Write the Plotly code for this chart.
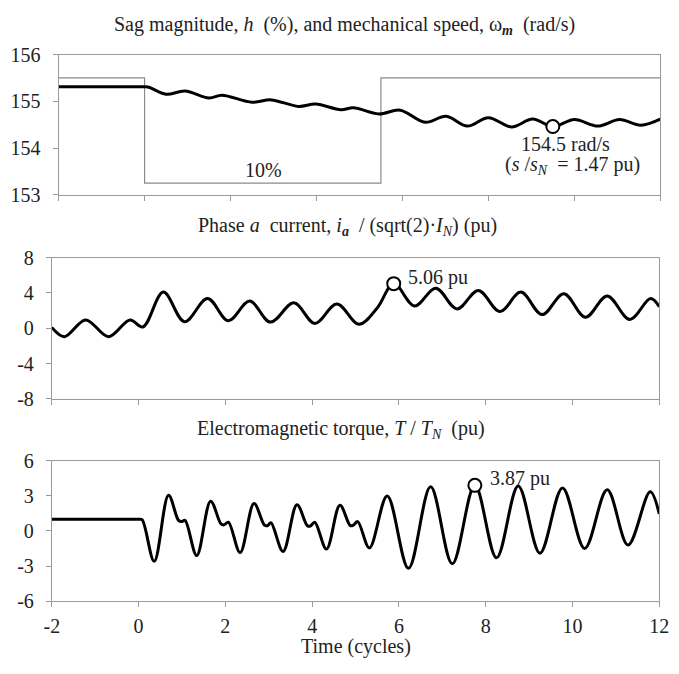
import plotly.graph_objects as go

# ---------------- data ----------------
x_ticks = [-2, 0, 2, 4, 6, 8, 10, 12]
x_tick_text = ["-2", "0", "2", "4", "6", "8", "10", "12"]

# Sag magnitude (drawn in the speed axis units, as in the original)
sag_t = [-2, 0, 0, 5.5, 5.5, 12]
sag_level = [155.5, 155.5, 153.25, 153.25, 155.5, 155.5]

# Mechanical speed (rad/s)
speed_t = [-2, -1, 0.0, 0.1, 0.5, 0.94, 1.5, 1.8, 2.5, 2.95, 3.58, 3.98, 4.57, 4.86,
           5.45, 5.95, 6.53, 7.02, 7.51, 8.0, 8.54, 9.03, 9.5, 10.0, 10.55, 11.05, 11.55, 12.0]
speed_w = [155.31, 155.31, 155.31, 155.30, 155.15, 155.22, 155.07, 155.13, 154.98, 155.03,
           154.89, 154.94, 154.82, 154.86, 154.73, 154.81, 154.55, 154.68, 154.47, 154.65,
           154.45, 154.62, 154.46, 154.61, 154.47, 154.61, 154.49, 154.62]

# Phase a current (pu)
cur_t = [-2, -1.71, -1.22, -0.69, -0.2, 0.1, 0.57, 1.06, 1.59, 2.07, 2.56, 3.04, 3.58,
         4.06, 4.57, 5.08, 5.5, 5.88, 6.36, 6.85, 7.34, 7.83, 8.33, 8.81, 9.3, 9.8,
         10.3, 10.8, 11.32, 11.8, 12.0]
cur_v = [0.1, -0.95, 0.95, -0.95, 0.95, 0.15, 4.1, 0.75, 3.37, 0.85, 3.08, 0.7, 2.89,
         0.55, 2.75, 0.45, 2.3, 5.06, 2.53, 4.54, 2.2, 4.29, 1.9, 4.1, 1.55, 3.92,
         1.25, 3.66, 1.0, 3.37, 2.45]

# Electromagnetic torque (pu)
tq_t = [-2, -1, 0.0, 0.08, 0.36, 0.69, 0.92, 0.99, 1.07, 1.34, 1.66, 1.9, 1.97, 2.07,
        2.34, 2.66, 2.9, 2.97, 3.05, 3.33, 3.65, 3.89, 3.96, 4.06, 4.33, 4.64, 4.88,
        4.95, 5.05, 5.32, 5.73, 6.22, 6.73, 7.23, 7.75, 8.25, 8.75, 9.25, 9.77, 10.28,
        10.8, 11.28, 11.79, 12.0]
tq_v = [1.0, 1.0, 1.0, 0.97, -2.6, 3.05, 0.9, 0.8, 0.9, -2.1, 2.55, 0.6, 0.52, 0.75,
        -1.85, 2.35, 0.5, 0.45, 0.7, -1.75, 2.25, 0.45, 0.42, 0.75, -1.55, 2.2, 0.45,
        0.5, 0.8, -1.45, 3.0, -3.2, 3.78, -2.8, 3.9, -2.3, 3.85, -1.9, 3.68, -1.5,
        3.52, -1.2, 3.35, 1.45]

# Highlighted points
mark_speed = ([9.5], [154.46])
mark_cur = ([5.88], [5.06])
mark_tq = ([7.75], [3.9])

# ---------------- figure ----------------
W, H = 679, 674
def px(x):
    return x / W
def py(y):
    return 1 - y / H

FONT = "Liberation Serif"
AX = "#9a9a9a"
TXT = "#222"
line_style = dict(color="black", width=3, shape="spline", smoothing=1.0)

fig = go.Figure()
fig.add_trace(go.Scatter(x=sag_t, y=sag_level, mode="lines",
                         line=dict(color="#8a8a8a", width=1.2), xaxis="x", yaxis="y"))
fig.add_trace(go.Scatter(x=speed_t, y=speed_w, mode="lines", line=line_style,
                         xaxis="x", yaxis="y"))
fig.add_trace(go.Scatter(x=cur_t, y=cur_v, mode="lines", line=line_style,
                         xaxis="x2", yaxis="y2"))
fig.add_trace(go.Scatter(x=tq_t, y=tq_v, mode="lines", line=line_style,
                         xaxis="x3", yaxis="y3"))
for (mx, my), xa, ya in [(mark_speed, "x", "y"), (mark_cur, "x2", "y2"), (mark_tq, "x3", "y3")]:
    fig.add_trace(go.Scatter(x=mx, y=my, mode="markers",
                             marker=dict(symbol="circle", size=13, color="white",
                                         line=dict(color="black", width=2)),
                             xaxis=xa, yaxis=ya))

def xaxis(domain, anchor, labels):
    return dict(domain=domain, anchor=anchor, range=[-2, 12], tickvals=x_ticks,
                ticktext=x_tick_text,
                showticklabels=labels, ticks="outside", ticklen=5, tickcolor=AX,
                ticklabelstandoff=2,
                showline=True, linecolor=AX, linewidth=1, mirror=True,
                showgrid=False, zeroline=False,
                tickfont=dict(family=FONT, size=20, color=TXT))

def yaxis(domain, anchor, rng, vals, texts):
    return dict(domain=domain, anchor=anchor, range=rng, tickvals=vals, ticktext=texts,
                ticks="outside", ticklen=5, tickcolor=AX, ticklabelstandoff=8,
                showline=True, linecolor=AX, linewidth=1, mirror=True,
                showgrid=False, zeroline=False,
                tickfont=dict(family=FONT, size=20, color=TXT))

fig.update_layout(
    width=W, height=H, margin=dict(l=0, r=0, t=0, b=0),
    paper_bgcolor="white", plot_bgcolor="white", showlegend=False,
    font=dict(family=FONT, size=20, color=TXT),
    xaxis=xaxis([px(52), px(670)], "y", False),
    yaxis=yaxis([py(190), py(45)], "x", [153, 156], [153, 154, 155, 156],
                ["153", "154", "155", "156"]),
    xaxis2=xaxis([px(45), px(669)], "y2", False),
    yaxis2=yaxis([py(401), py(255)], "x2", [-8, 8], [-8, -4, 0, 4, 8],
                 ["-8", "-4", "0", "4", "8"]),
    xaxis3=xaxis([px(45), px(669)], "y3", True),
    yaxis3=yaxis([py(610), py(465)], "x3", [-6, 6], [-6, -3, 0, 3, 6],
                 ["-6", "-3", "0", "3", "6"]),
)

ann = []
def paper_text(text, x, y, size=20):
    ann.append(dict(text=text, x=px(x), y=py(y), xref="paper", yref="paper",
                    xanchor="center", yanchor="middle", showarrow=False,
                    font=dict(family=FONT, size=size, color=TXT)))

paper_text("Sag magnitude, <i>h</i>  (%), and mechanical speed, ω<sub><b><i>m</i></b></sub>  (rad/s)", 346, 15)
paper_text("Phase <i>a</i>  current, <i>i</i><sub><b><i>a</i></b></sub>  / (sqrt(2)·<i>I</i><sub><i>N</i></sub>) (pu)", 349, 223)
paper_text("Electromagnetic torque, <i>T</i> / <i>T</i><sub><i>N</i></sub>  (pu)", 342, 433)
paper_text("Time (cycles)", 357, 657)

def data_text(text, x, y, xa, ya, anchor="center"):
    ann.append(dict(text=text, x=x, y=y, xref=xa, yref=ya, xanchor=anchor,
                    yanchor="middle", showarrow=False,
                    font=dict(family=FONT, size=20, color=TXT)))

data_text("10%", 2.76, 153.52, "x", "y")
data_text("154.5 rad/s", 9.8, 154.08, "x", "y")
data_text("(<i>s</i> /<i>s</i><sub><i>N</i></sub>  = 1.47 pu)", 9.96, 153.62, "x", "y")
data_text("5.06 pu", 6.17, 5.73, "x2", "y2", "left")
data_text("3.87 pu", 8.05, 4.51, "x3", "y3", "left")

fig.update_layout(annotations=ann)
fig.write_html("out.html")
